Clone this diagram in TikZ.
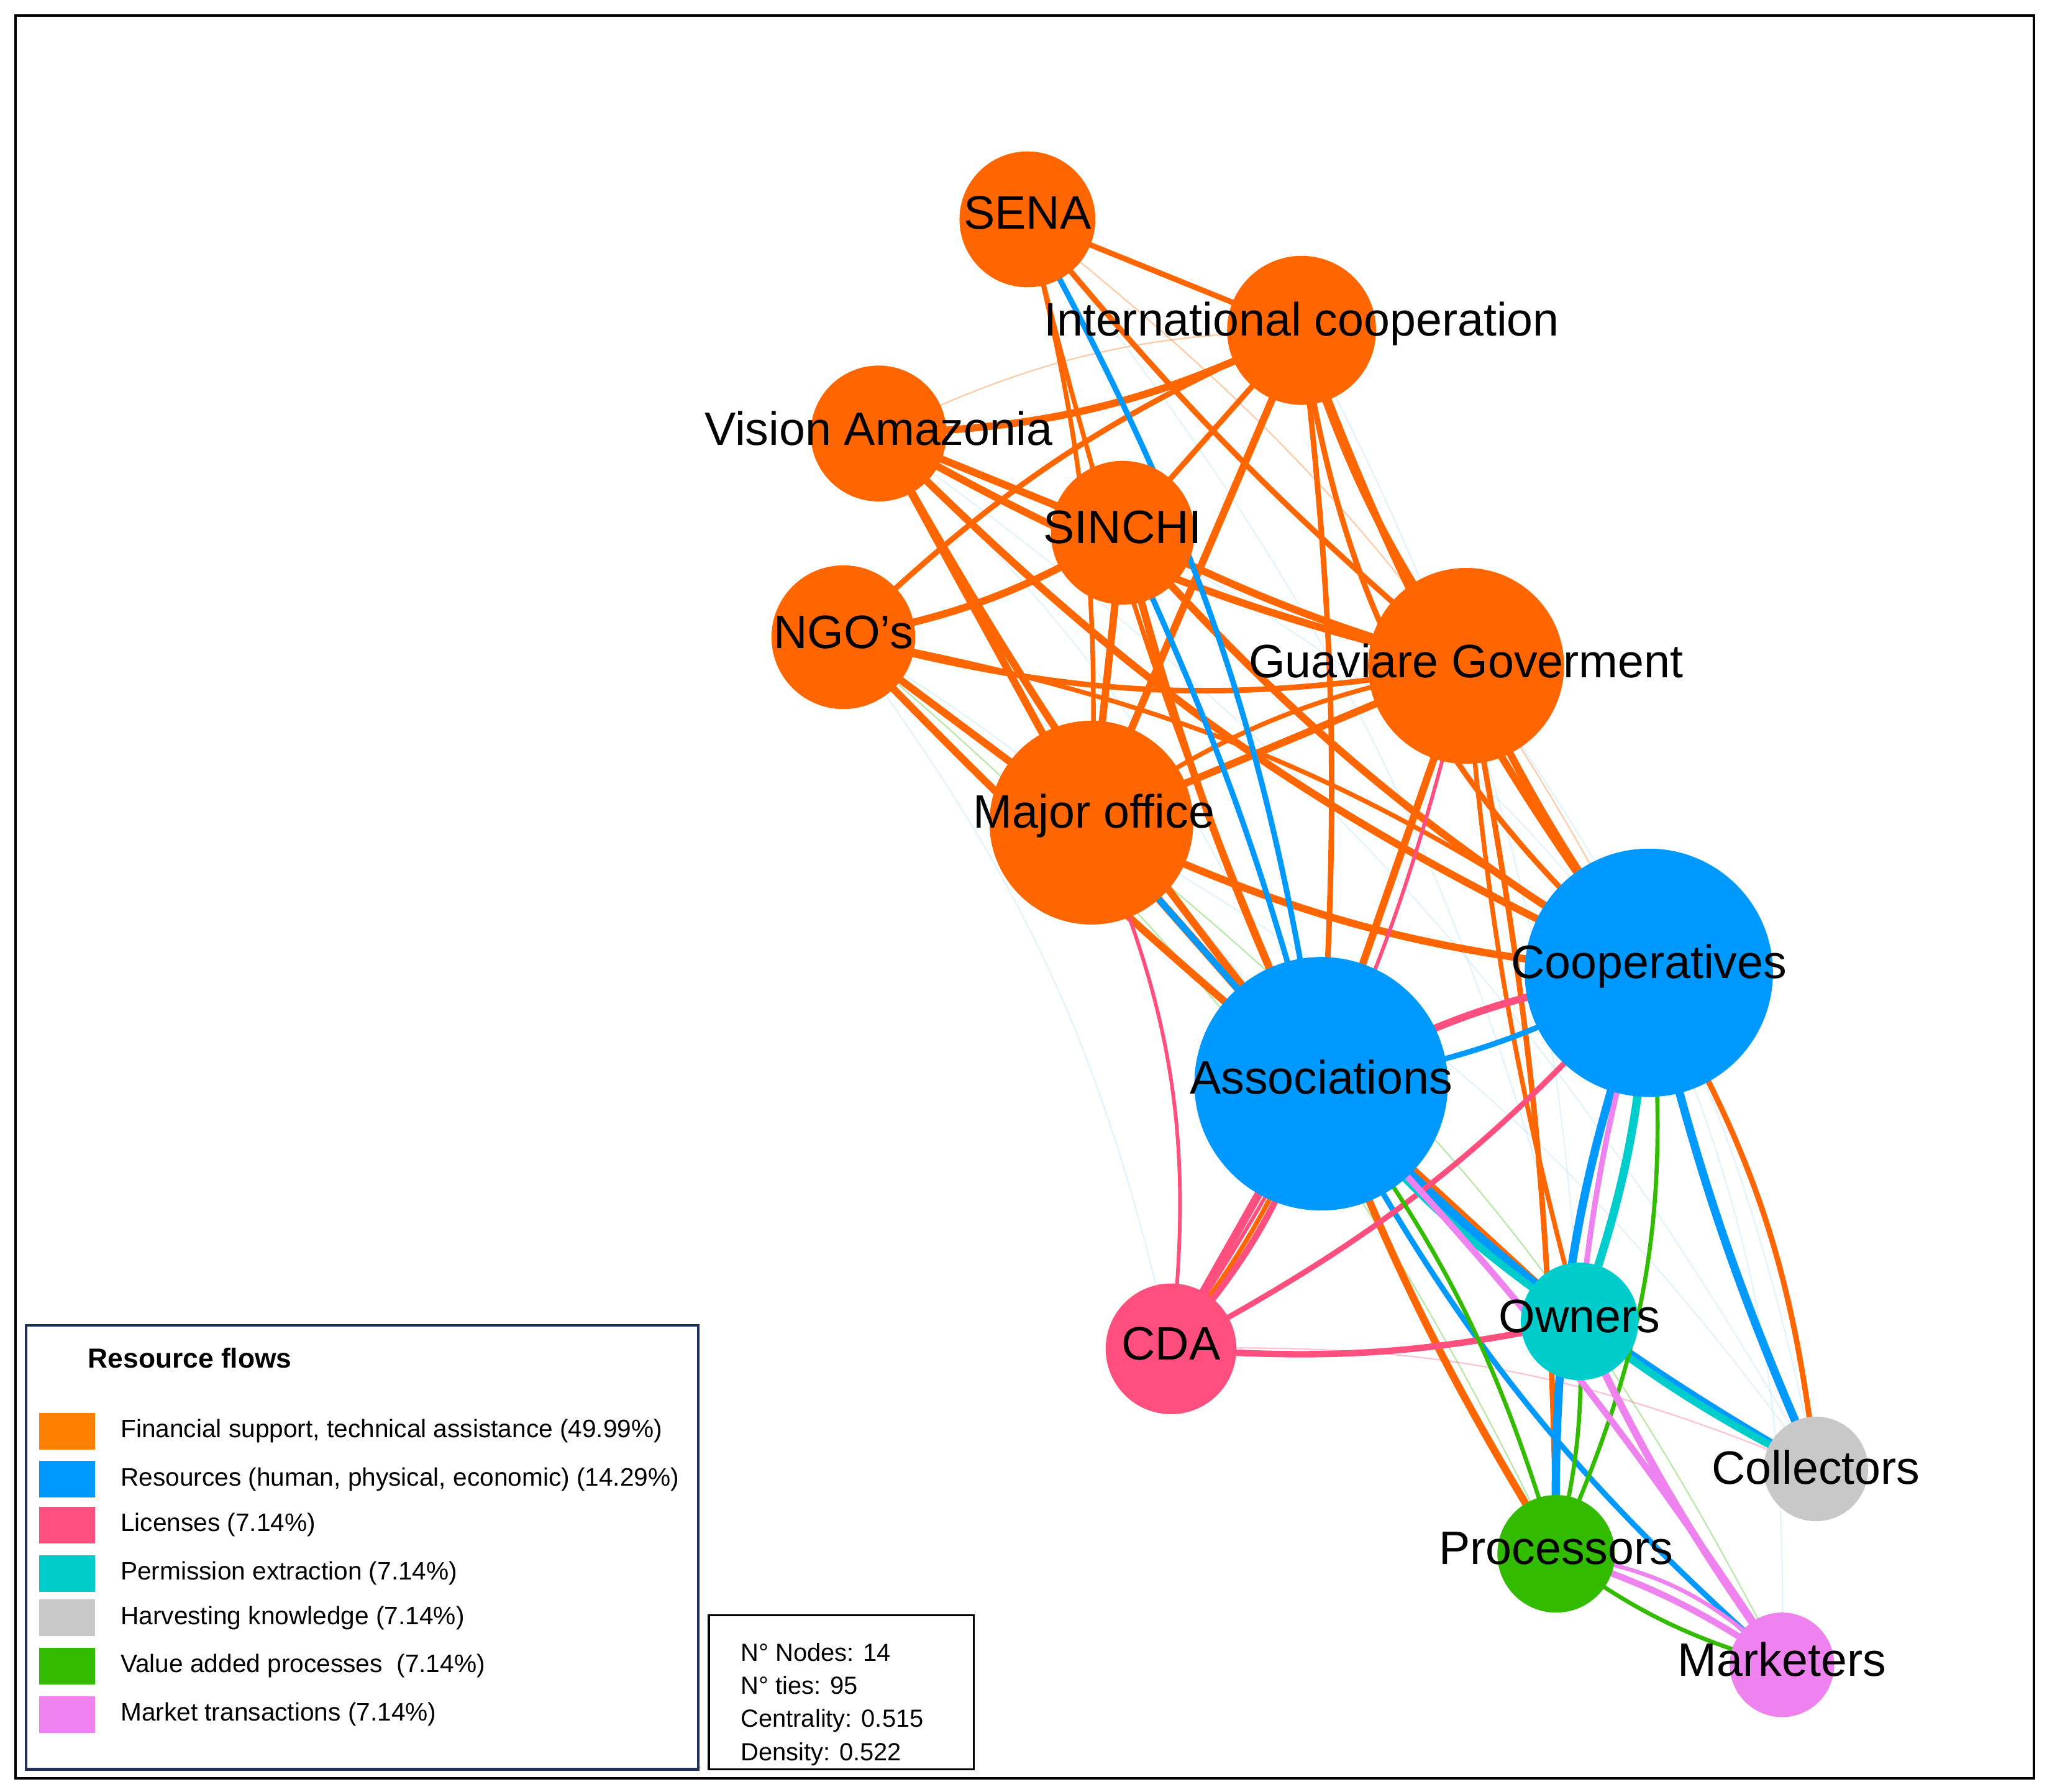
\documentclass[tikz,border=0pt]{standalone}
\usepackage{fontspec}
\setmainfont{Liberation Sans}
\begin{document}
\begin{tikzpicture}[x=0.01cm,y=-0.01cm,
 nd/.style={circle,inner sep=0pt,minimum size=#1*0.02cm},
 lb/.style={font=\fontsize{10.2}{12}\selectfont},
 lg/.style={font=\fontsize{5.5}{7}\selectfont,anchor=west},
 e/.style={line width=#1},
 faint/.style={line width=0.3pt,opacity=0.35}]
\definecolor{or}{HTML}{FF6600}\definecolor{bl}{HTML}{0099FF}
\definecolor{pk}{HTML}{FF4F7F}\definecolor{cy}{HTML}{00CCCC}
\definecolor{gy}{HTML}{C8C8C8}\definecolor{gr}{HTML}{33BB00}
\definecolor{vi}{HTML}{EE82EE}\definecolor{lb2}{HTML}{A8DDF8}
\definecolor{lo}{HTML}{FF8000}
\useasboundingbox (0,0) rectangle (1568,1372);
\draw[line width=0.5pt] (12,12) rectangle (1558,1362);
\coordinate (SENA) at (787,168);
\coordinate (IC) at (997,253);
\coordinate (VA) at (673,332);
\coordinate (SI) at (860,408);
\coordinate (NGO) at (646,488);
\coordinate (GG) at (1123,510);
\coordinate (MO) at (836,630);
\coordinate (CO) at (1263,745);
\coordinate (AS) at (1012,830);
\coordinate (OW) at (1210,1012);
\coordinate (CDA) at (897,1033);
\coordinate (CL) at (1391,1125);
\coordinate (PR) at (1192,1190);
\coordinate (MK) at (1365,1275);
\foreach \a/\b/\c in {NGO/AS/lb2,VA/AS/lb2,NGO/CDA/lb2,MO/CL/lb2,SI/CO/lb2,VA/CL/lb2,IC/OW/lb2,SENA/CO/or,VA/IC/or,NGO/PR/gr,MO/MK/gr,CDA/CL/pk,CO/MK/lb2,GG/CL/lb2,SENA/OW/lb2}
  \draw[\c,faint] (\a) to[bend left=12] (\b);
\foreach \a/\b/\w/\bd in {SENA/IC/1.2/0,SENA/GG/1.2/-5,SENA/MO/1.0/8,SENA/AS/1.0/-5,VA/SI/1.6/0,VA/GG/1.6/-8,VA/CO/1.6/-10,VA/MO/1.6/0,VA/AS/1.6/-5,IC/VA/1.6/12,IC/SI/1.2/0,IC/NGO/1.2/-10,IC/MO/1.6/0,IC/GG/1.6/-8,IC/CO/1.6/-8,IC/AS/1.2/5,SI/NGO/1.6/10,SI/GG/1.6/-5,SI/MO/1.6/0,SI/AS/1.6/-5,SI/CO/1.6/-8,NGO/GG/1.2/-12,NGO/MO/1.6/0,NGO/AS/1.6/-3,NGO/CO/1.0/12,GG/MO/1.6/0,GG/AS/1.6/0,GG/CO/1.6/-5,GG/OW/1.0/-5,MO/AS/1.6/0,MO/CO/1.6/-10,MO/GG/1.0/12,AS/PR/1.6/-5,CO/CL/1.2/-5,CO/OW/1.0/-5,AS/OW/1.2/0,GG/PR/1.2/5,CDA/AS/1.0/-8,IC/CO/1.2/-20,CL/CO/1.2/-12}
  \draw[or,e=\w pt] (\a) to[bend left=\bd] (\b);
\foreach \a/\b/\w/\bd in {SENA/AS/1.2/10,SI/AS/1.2/5,MO/AS/1.4/0,AS/CO/1.2/-10,AS/OW/1.6/-5,AS/CL/1.6/-8,AS/MK/1.2/-10,CO/PR/1.8/-10,CO/CL/1.8/-5}
  \draw[bl,e=\w pt] (\a) to[bend left=\bd] (\b);
\foreach \a/\b/\w/\bd in {CDA/GG/0.8/-10,CDA/MO/0.8/-15,CDA/AS/1.8/0,CDA/AS/1.4/-12,CDA/CO/1.2/-10,CDA/OW/1.4/-8,AS/CO/1.6/10}
  \draw[pk,e=\w pt] (\a) to[bend left=\bd] (\b);
\foreach \a/\b/\w/\bd in {AS/OW/1.6/-8,OW/CL/1.6/-5,CO/OW/1.8/8}
  \draw[cy,e=\w pt] (\a) to[bend left=\bd] (\b);
\foreach \a/\b/\w/\bd in {AS/PR/0.9/10,CO/PR/0.9/15,OW/PR/0.9/8,PR/MK/0.9/-10}
  \draw[gr,e=\w pt] (\a) to[bend left=\bd] (\b);
\foreach \a/\b/\w/\bd in {AS/MK/1.4/5,CO/OW/1.2/-5,OW/MK/1.6/-5,PR/MK/1.4/8,PR/MK/0.9/18}
  \draw[vi,e=\w pt] (\a) to[bend left=\bd] (\b);
\foreach \n/\r/\c in {SENA/52/or,IC/57/or,VA/52/or,SI/55/or,NGO/55/or,GG/75/or,MO/78/or,CO/95/bl,AS/97/bl,OW/45/cy,CDA/50/pk,CL/40/gy,PR/45/gr,MK/40/vi}
  {\node[nd=\r,fill=\c] (n\n) at (\n) {};}
\node[lb] at (787,163) {SENA};
\node[lb] at (997,248) {International cooperation};
\node[lb] at (673,328) {Vision Amazonia};
\node[lb] at (860,404) {SINCHI};
\node[lb] at (646,484) {NGO's};
\node[lb] at (1123,506) {Guaviare Goverment};
\node[lb] at (838,625) {Major office};
\node[lb] at (1263,740) {Cooperatives};
\node[lb] at (1012,825) {Associations};
\node[lb] at (1210,1008) {Owners};
\node[lb] at (897,1029) {CDA};
\node[lb] at (1391,1124) {Collectors};
\node[lb] at (1192,1186) {Processors};
\node[lb] at (1365,1271) {Marketers};
\draw[line width=0.6pt,draw={rgb,255:red,30;green,50;blue,90}] (20,1015) rectangle (535,1355);
\node[lg,font=\fontsize{6}{7}\selectfont\bfseries] at (55,1040) {Resource flows};
\foreach \y/\c/\t in {1096/lo/{Financial support, technical assistance (49.99\%)},1133/bl/{Resources (human, physical, economic) (14.29\%)},1168/pk/{Licenses (7.14\%)},1205/cy/{Permission extraction (7.14\%)},1239/gy/{Harvesting knowledge (7.14\%)},1276/gr/{Value added processes\ \ (7.14\%)},1313/vi/{Market transactions (7.14\%)}}
 {\fill[\c] (30,\y-14) rectangle (73,\y+14); \node[lg] at (80,\y) {\t};}
\draw[line width=0.5pt] (543,1237) rectangle (746,1355);
\node[lg,align=left,anchor=north west,font=\fontsize{5.4}{7.2}\selectfont] at (555,1246) {N° Nodes: 14\\N° ties: 95\\Centrality: 0.515\\Density: 0.522};
\end{tikzpicture}
\end{document}
